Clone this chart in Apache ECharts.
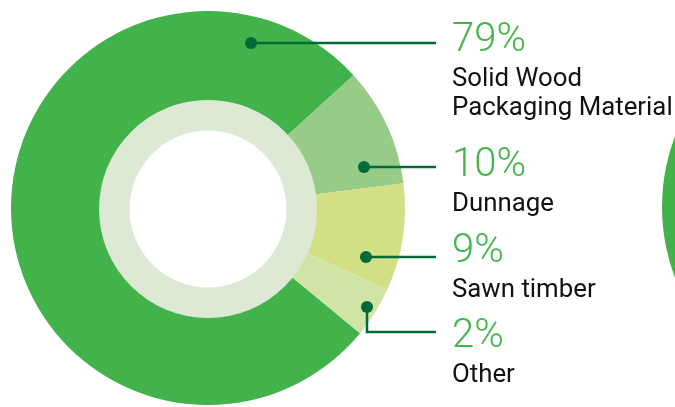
<!DOCTYPE html>
<html>
<head>
<meta charset="utf-8">
<script src="https://cdn.jsdelivr.net/npm/echarts@6/dist/echarts.min.js"></script>
<style>
  html, body { margin: 0; padding: 0; background: #fff; }
  #chart { width: 675px; height: 407px; }
</style>
</head>
<body>
<div id="chart"></div>
<script>
// share of each material type (percent)
const categories = ["Solid Wood\nPackaging Material", "Dunnage", "Sawn timber", "Other"];
const shares = [79, 10, 9, 2];
const sliceColors = ["#42b34a", "#97cc88", "#d3df84", "#d0e4a5"];
// decorative inner ring and the edge of the next donut on the right
const ringValues = [1];
const nextDonutValues = [100];

// label placement (leader line start dot, line height, text top)
const dotPoints = [[251, 43], [364, 167], [366, 257], [367, 307]];
const lineY = [43, 167, 257, 332];
const labelTop = [17, 142, 228, 313];
const labelX = 452;
const lineEndX = 436;
const leaderColor = "#006a3b";

const chart = echarts.init(document.getElementById("chart"));

const leaders = [];
dotPoints.forEach((d, i) => {
  leaders.push({
    type: "polyline",
    shape: { points: [[d[0], d[1]], [d[0], lineY[i]], [lineEndX, lineY[i]]] },
    style: { stroke: leaderColor, lineWidth: 2.5, fill: null },
    z: 100,
  });
  leaders.push({
    type: "circle",
    shape: { cx: d[0], cy: d[1], r: 6 },
    style: { fill: leaderColor },
    z: 101,
  });
});

chart.setOption({
  backgroundColor: "#fff",
  animation: false,
  series: [
    {
      type: "pie",
      center: [862, 207],
      radius: [0, 200],
      silent: true,
      label: { show: false },
      labelLine: { show: false },
      itemStyle: { color: "#42b34a" },
      data: nextDonutValues.map((v) => ({ value: v })),
    },
    {
      type: "pie",
      center: [208, 208],
      radius: [100, 197],
      startAngle: 320.5,
      minAngle: 15,
      clockwise: true,
      avoidLabelOverlap: false,
      silent: true,
      itemStyle: { borderWidth: 0 },
      data: shares.map((v, i) => ({
        value: v,
        name: categories[i],
        itemStyle: { color: sliceColors[i] },
      })),
      label: {
        show: true,
        position: "outside",
        formatter: (p) =>
          "{pct|" + p.value + "%}\n" +
          p.name.split("\n").map((s) => "{name|" + s + "}").join("\n"),
        rich: {
          pct: {
            fontFamily: "Roboto",
            fontWeight: 300,
            fontSize: 40,
            lineHeight: 48,
            color: "#43b649",
          },
          name: {
            fontFamily: "Roboto",
            fontSize: 25.8,
            lineHeight: 29,
            color: "#111",
          },
        },
      },
      labelLine: { show: false },
      labelLayout: (params) => ({
        x: labelX,
        y: labelTop[params.dataIndex],
        align: "left",
        verticalAlign: "top",
        hideOverlap: false,
      }),
    },
    {
      type: "pie",
      center: [208, 209],
      radius: [78.5, 109],
      silent: true,
      label: { show: false },
      labelLine: { show: false },
      itemStyle: { color: "#dee9d5" },
      data: ringValues.map((v) => ({ value: v })),
    },
  ],
  graphic: leaders,
});
</script>
</body>
</html>
